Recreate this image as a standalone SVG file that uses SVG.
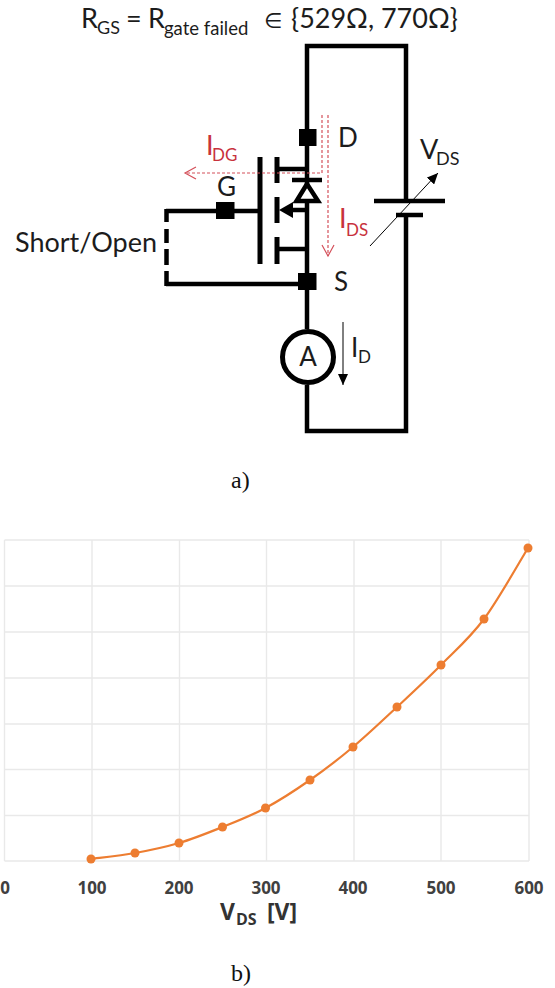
<svg xmlns="http://www.w3.org/2000/svg" width="555" height="988" viewBox="0 0 555 988">
<defs>
<marker id="ah" markerUnits="userSpaceOnUse" markerWidth="12" markerHeight="10" refX="11" refY="5" orient="auto"><path d="M0,0L11,5L0,10Z" fill="#000"/></marker>
<marker id="red" markerUnits="userSpaceOnUse" markerWidth="14" markerHeight="14" refX="12" refY="7" orient="auto"><path d="M1,1L12,7L1,13" fill="none" stroke="#d4505a" stroke-width="1.2"/></marker>
</defs>
<style>
text{font-family:Lato,"Liberation Sans",sans-serif;fill:#1c1c1c}
.w{fill:none;stroke:#000;stroke-width:4.5}
.b{fill:none;stroke:#000;stroke-width:5}
.sq{fill:#000}
.r{fill:none;stroke:#d4505a;stroke-width:1.2;stroke-dasharray:3 2}
.grid{stroke:#e9e9e9;stroke-width:1.4;fill:none}
.tick{font-family:"Open Sans","Liberation Sans",sans-serif;font-size:17px;font-weight:700;fill:#404040;text-anchor:middle}
.cap{font-family:"Liberation Serif",serif;font-size:24px;fill:#111}
</style>
<rect width="555" height="988" fill="#fff"/>
<g id="title"><text x="81" y="28" font-size="27">R<tspan x="97" y="34" font-size="18">GS</tspan><tspan x="126" y="28">=</tspan><tspan x="148" y="28">R</tspan><tspan x="164" y="35" font-size="18.500">gate failed</tspan><tspan x="264" y="28" font-family="DejaVu Sans" font-size="21">∈</tspan><tspan x="291" y="28">{529Ω, 770Ω}</tspan></text></g>
<g id="connectors">
<path class="w" d="M307,129V46H406V201M406,215V431H307V385M307,329V289M307,146V273"/>
<path class="w" d="M166,211H260M166,284H298"/>
<path class="w" d="M166.500,209V222M166.500,229V243M166.500,249V265M166.500,271V286"/>
</g>
<g id="mosfet">
<path class="b" d="M260,157V264M277,157V183M277,197V223M277,237V264"/>
<path class="w" d="M277,169H307M290,210H307M277,249H307"/>
<path d="M279,210L293,202V218Z" fill="#000"/>
<path d="M292,180H322" class="w"/>
<path d="M307,184L296.500,201H318Z" fill="#fff" stroke="#000" stroke-width="4.500"/>
</g>
<g id="node-D"><rect class="sq" x="299" y="129" width="17.500" height="17"/><text x="338" y="147" font-size="26">D</text></g>
<g id="node-G"><rect class="sq" x="216" y="202" width="18.500" height="17"/><text x="217" y="196" font-size="26">G</text></g>
<g id="node-S"><rect class="sq" x="298" y="273" width="18.500" height="17"/><text x="334" y="291" font-size="26">S</text></g>
<g id="short-open"><text x="15" y="252" font-size="27">Short/Open</text></g>
<g id="battery">
<path class="w" d="M374,201H445M396,215H423"/>
<path d="M370,246L438,173" fill="none" stroke="#000" stroke-width="1" marker-end="url(#ah)"/>
<text x="420" y="159" font-size="27">V<tspan x="436" y="165" font-size="18">DS</tspan></text>
</g>
<g id="ammeter">
<circle cx="308" cy="357" r="25.500" fill="#fff" stroke="#000" stroke-width="5"/>
<text x="308" y="366" font-size="26" text-anchor="middle">A</text>
<path d="M343,322V385" fill="none" stroke="#000" stroke-width="1" marker-end="url(#ah)"/>
<text x="351" y="357" font-size="26">I<tspan x="358" y="363" font-size="17">D</tspan></text>
</g>
<g id="currents">
<path class="r" d="M322,115V173H185" marker-end="url(#red)"/>
<path class="r" d="M328,115V256" marker-end="url(#red)"/>
<text x="206" y="155" font-size="27" style="fill:#c8323c">I<tspan x="212" y="161" font-size="17">DG</tspan></text>
<text x="339" y="228" font-size="27" style="fill:#c8323c">I<tspan x="346" y="236" font-size="17">DS</tspan></text>
</g>
<text class="cap" x="231" y="488">a)</text>
<g id="chart">
<path class="grid" d="M4.500,540H529M4.500,586H529M4.500,632H529M4.500,678H529M4.500,724H529M4.500,769.500H529M4.500,815.500H529M4.500,861H529"/>
<path class="grid" d="M4.500,540V861M92,540V861M179.500,540V861M266.500,540V861M354,540V861M441,540V861M529,540V861"/>
<path fill="none" stroke="#ed7d31" stroke-width="2.200" d="M91,859C98.300,858 120.300,855.700 135,853C149.700,850.300 164.400,847.300 179,843C193.600,838.700 208.100,832.800 222.500,827C236.900,821.200 250.900,815.800 265.500,808C280.100,800.200 295.400,790.200 310,780C324.600,769.800 338.500,759.200 353,747C367.500,734.800 382.300,720.700 397,707C411.700,693.300 426.500,679.700 441,665C455.500,650.300 469.500,638.500 484,619C498.500,599.500 520.700,559.800 528,548"/>
<g fill="#ed7d31">
<circle cx="91" cy="859" r="4.500"/><circle cx="135" cy="853" r="4.500"/><circle cx="179" cy="843" r="4.500"/><circle cx="222.500" cy="827" r="4.500"/><circle cx="265.500" cy="808" r="4.500"/><circle cx="310" cy="780" r="4.500"/><circle cx="353" cy="747" r="4.500"/><circle cx="397" cy="707" r="4.500"/><circle cx="441" cy="665" r="4.500"/><circle cx="484" cy="619" r="4.500"/><circle cx="528" cy="548" r="4.500"/>
</g>
<text class="tick" x="5" y="894">0</text><text class="tick" x="92" y="894">100</text><text class="tick" x="179" y="894">200</text><text class="tick" x="266" y="894">300</text><text class="tick" x="353" y="894">400</text><text class="tick" x="441" y="894">500</text><text class="tick" x="529" y="894">600</text>
<text x="220" y="920" font-size="23" font-weight="700" style="font-family:'Open Sans',sans-serif;fill:#333">V<tspan x="236" y="925" font-size="16">DS</tspan><tspan x="267" y="920">[V]</tspan></text>
</g>
<text class="cap" x="231" y="981">b)</text>
</svg>
